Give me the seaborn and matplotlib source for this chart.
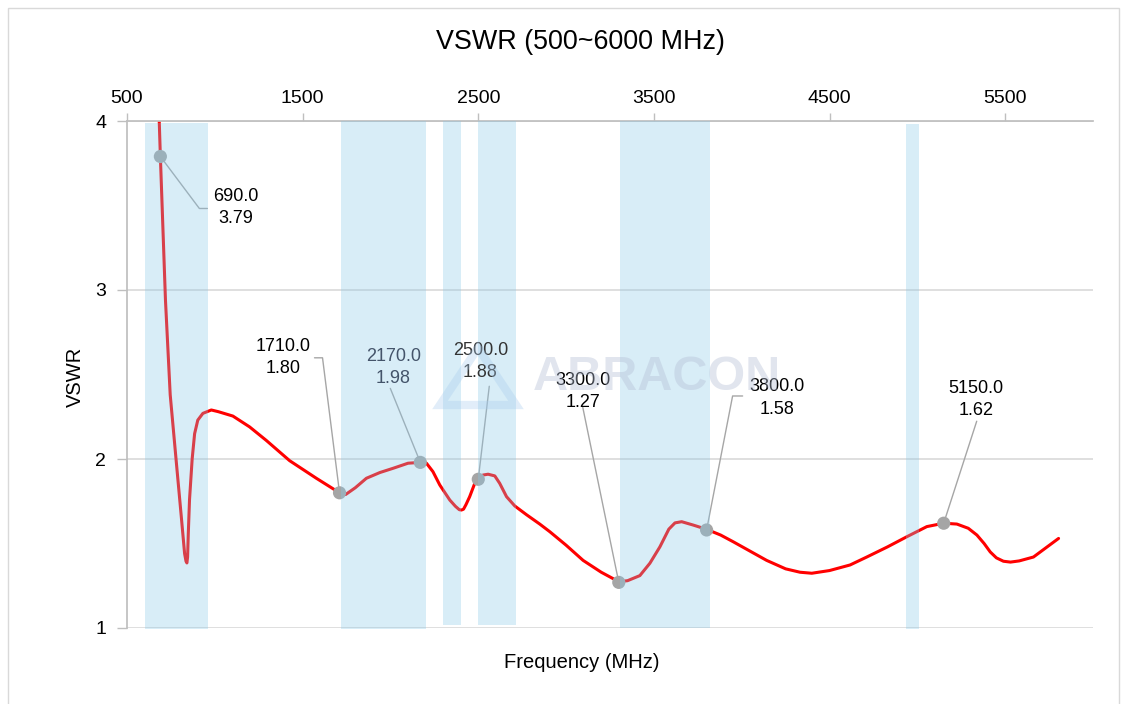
import numpy as np
import pandas as pd
import seaborn as sns
import matplotlib.pyplot as plt
from matplotlib.patches import Rectangle, Polygon

# VSWR curve (MHz, VSWR)
freq = [665, 690, 719, 746, 780, 809, 828, 836, 841, 845, 849, 856, 871, 885, 903, 932,
        980, 1020, 1103, 1198, 1293, 1426, 1578, 1710, 1745, 1800, 1863, 1940, 2015, 2100,
        2170, 2205, 2242, 2281, 2338, 2370, 2392, 2404, 2416, 2430, 2451, 2480, 2500, 2527,
        2556, 2594, 2622, 2661, 2708, 2775, 2850, 2907, 3000, 3097, 3200, 3300, 3350, 3420,
        3477, 3534, 3585, 3620, 3658, 3724, 3800, 3880, 3952, 4047, 4142, 4250, 4332, 4399,
        4500, 4617, 4712, 4830, 4940, 5054, 5150, 5225, 5290, 5339, 5380, 5415, 5450, 5490,
        5530, 5580, 5661, 5804]
vswr = [4.60, 3.79, 2.94, 2.38, 1.99, 1.66, 1.44, 1.395, 1.385, 1.42, 1.56, 1.76, 2.00, 2.15,
        2.23, 2.27, 2.29, 2.28, 2.254, 2.19, 2.11, 1.99, 1.886, 1.80, 1.79, 1.83, 1.886, 1.92,
        1.945, 1.975, 1.98, 1.975, 1.925, 1.846, 1.757, 1.72, 1.70, 1.698, 1.703, 1.73, 1.777,
        1.856, 1.88, 1.905, 1.91, 1.90, 1.856, 1.777, 1.722, 1.67, 1.615, 1.57, 1.49, 1.40,
        1.33, 1.274, 1.28, 1.31, 1.383, 1.48, 1.585, 1.622, 1.629, 1.609, 1.584, 1.55, 1.51,
        1.455, 1.40, 1.35, 1.33, 1.324, 1.34, 1.373, 1.42, 1.48, 1.54, 1.60, 1.62, 1.615, 1.59,
        1.55, 1.50, 1.45, 1.415, 1.395, 1.39, 1.397, 1.42, 1.53]

# marked points
marker_freq = [690, 1710, 2170, 2500, 3300, 3800, 5150]
marker_vswr = [3.79, 1.80, 1.98, 1.88, 1.27, 1.58, 1.62]

# shaded bands (MHz)
band_lo = [605, 1720, 2300, 2496, 3305, 4935]
band_hi = [960, 2205, 2400, 2715, 3820, 5008]

xticks = [500, 1500, 2500, 3500, 4500, 5500]
yticks = [1, 2, 3, 4]

sns.set_theme(style='white')
plt.rcParams['font.family'] = ['Liberation Sans', 'DejaVu Sans']
plt.rcParams['text.color'] = 'black'

fig = plt.figure(figsize=(11.24, 7.04), dpi=100)
ax = fig.add_axes([127 / 1124, 1 - 628 / 704, (1093 - 127) / 1124, (628 - 121) / 704])

df = pd.DataFrame({'freq': freq, 'vswr': vswr})
sns.lineplot(data=df, x='freq', y='vswr', color='#ff0000', lw=2.2, sort=False, ax=ax, zorder=2)
sns.scatterplot(x=marker_freq, y=marker_vswr, s=90, color='#a5a5a5', edgecolor='none', ax=ax, zorder=2.5)

# band spans drawn over the curve, semi transparent
band_top = [0.996, 1, 1, 1, 1, 0.994]
band_bot = [-0.002, -0.002, 0.006, 0.006, 0, -0.002]
for lo, hi, b, t in zip(band_lo, band_hi, band_bot, band_top):
    ax.axvspan(lo, hi, ymin=b, ymax=t, color='#88c8e8', alpha=0.32, lw=0, zorder=3, clip_on=False)

ax.set_xlim(500, 6000)
ax.set_ylim(1, 4)
ax.set_xticks(xticks)
ax.set_yticks(yticks)
ax.xaxis.tick_top()
ax.tick_params(axis='x', top=True, bottom=False, labeltop=True, labelbottom=False,
               length=6, width=1, color='#bfbfbf', labelcolor='black', labelsize=14, pad=4)
ax.tick_params(axis='y', left=True, length=7, width=1, color='#bfbfbf', labelcolor='black',
               labelsize=14, pad=8)
ax.grid(axis='y', color='#d9d9d9', lw=1.2)
ax.grid(axis='x', visible=False)
for s in ['right', 'bottom']:
    ax.spines[s].set_visible(False)
ax.spines['left'].set_color('#bfbfbf')
ax.spines['top'].set_color('#bfbfbf')
ax.set_xlabel('')
ax.set_ylabel('')

# labels with leader lines (offsets in pixels from marker, y down)
leaders = [[(39, 52), (47, 52)], [(-17, -135), (-25, -135)], [(-30, -74)], [(11, -93)],
           [(-36, -175)], [(26, -134), (36, -134)], [(33, -102)]]
text_off = [(75, 51), (-56, -135), (-27, -95), (2, -118), (-36, -191), (70, -132), (32, -124)]
text_col = ['black', 'black', '#44546a', '#333333', 'black', 'black', 'black']
for f, v, pts, (tx, ty), tc in zip(marker_freq, marker_vswr, leaders, text_off, text_col):
    mx, my = ax.transData.transform((f, v))
    path = [(mx, my)] + [(mx + dx, my - dy) for dx, dy in pts]
    data_pts = ax.transData.inverted().transform(path)
    ax.plot(data_pts[:, 0], data_pts[:, 1], color='#a6a6a6', lw=1, zorder=2.4, clip_on=False)
    ax.annotate(f'{f:.1f}\n{v:.2f}', xy=(f, v), xytext=(tx, -ty), textcoords='offset pixels',
                ha='center', va='center', fontsize=13, color=tc, linespacing=1.4, zorder=4)

fig.text(580 / 1124, 1 - 42 / 704, 'VSWR (500~6000 MHz)', ha='center', va='center', fontsize=19.4)
fig.text(582 / 1124, 1 - 662 / 704, 'Frequency (MHz)', ha='center', va='center', fontsize=14.5)
fig.text(75 / 1124, 1 - 377 / 704, 'VSWR', ha='center', va='center', rotation=90, fontsize=14.5)

# watermark
fig.text(533 / 1124, 1 - 377 / 704, 'ABRACON', ha='left', va='center', fontsize=35,
         fontweight='bold', color='#b4bfd6', alpha=0.4, zorder=10)
fig.patches.append(Polygon([(440 / 1124, 1 - 405 / 704), (478 / 1124, 1 - 348 / 704),
                            (516 / 1124, 1 - 405 / 704)], closed=True, fill=False,
                           edgecolor='#a9cdee', lw=6, alpha=0.35, transform=fig.transFigure,
                           zorder=10))

# chart border
fig.patches.append(Rectangle((8 / 1124, -0.01), 1111 / 1124, 1 - 8 / 704 + 0.01, fill=False,
                             edgecolor='#d9d9d9', lw=1, transform=fig.transFigure))

fig.savefig('out.png', dpi=100)
